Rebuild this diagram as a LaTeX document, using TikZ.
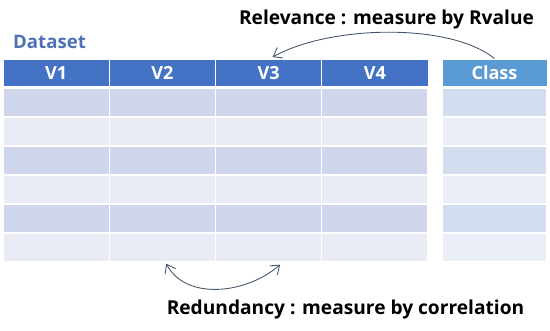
\documentclass[tikz,border=0pt]{standalone}
\usepackage{fontspec}
\setmainfont{Open Sans}
\usepackage{tikz}
\usetikzlibrary{positioning,arrows.meta}
\usepackage{xcolor}
\definecolor{headblue}{HTML}{4472C4}
\definecolor{classblue}{HTML}{5B9BD5}
\definecolor{rowdark}{HTML}{CFD5EA}
\definecolor{rowlight}{HTML}{E9EBF5}
\definecolor{classdark}{HTML}{D2DEEF}
\definecolor{classlight}{HTML}{EAEFF7}
\definecolor{titleblue}{HTML}{4E71B3}
\definecolor{arrowgray}{HTML}{44546A}

\begin{document}
\begin{tikzpicture}[
      head/.style={fill=headblue,draw=white,line width=0.5pt,minimum width=2.125cm,minimum height=0.55cm,inner sep=0pt,text=white,font=\bfseries\fontsize{10.3}{12}\selectfont},
      classhead/.style={head,fill=classblue,minimum width=2.1cm},
      cell/.style={draw=white,line width=0.8pt,minimum width=2.125cm,minimum height=0.58cm,inner sep=0pt},
      classcell/.style={cell,minimum width=2.1cm},
      label/.style={font=\bfseries\fontsize{10.9}{13}\selectfont,inner sep=0pt},
      curve/.style={arrowgray,line width=0.5pt}
    ]
      \useasboundingbox (0,0) rectangle (11,-6.62);

      \node[label,text=titleblue,font=\bfseries\fontsize{10.6}{13}\selectfont] (dataset) at (0.99,-0.84) {Dataset};
      \node[label] (relevance) at (7.73,-0.40) {Relevance : measure by Rvalue};
      \node[label] (redundancy) at (6.91,-6.19) {Redundancy : measure by correlation};

      \node[head] (v1) at (1.122,-1.455) {V1};
      \node[head] (v2) at (3.247,-1.455) {V2};
      \node[head] (v3) at (5.372,-1.455) {V3};
      \node[head] (v4) at (7.497,-1.455) {V4};
      \node[classhead] (class) at (9.89,-1.455) {Class};

      % body rows, dark and light in turn
      \foreach \r/\y in {1/-2.05,2/-2.63,3/-3.21,4/-3.79,5/-4.37,6/-4.95}{
        \pgfmathsetmacro{\shade}{isodd(\r) ? "dark" : "light"}
        \foreach \c/\x in {1/1.122,2/3.247,3/5.372,4/7.497}
          \node[cell,fill=row\shade] (c\c r\r) at (\x,\y) {};
        \node[classcell,fill=class\shade] (k\r) at (9.89,\y) {};
      }

      \coordinate (relend) at ([xshift=0.08cm,yshift=0.03cm]v3.north);
      \coordinate (redstart) at ([xshift=0.08cm,yshift=-0.02cm]c2r6.south);
      \coordinate (redend) at ([xshift=0.23cm,yshift=-0.04cm]c3r6.south);

      \draw[curve,-{Straight Barb[length=1.6mm,width=2.4mm]}] (class.north) .. controls (9.0,-0.45) and (6.6,-0.5) .. (relend);
      \draw[curve,{Straight Barb[length=1.6mm,width=2.4mm]}-{Straight Barb[length=1.6mm,width=2.4mm]}] (redstart) .. controls (3.7,-6.0) and (4.9,-5.9) .. (redend);
    \end{tikzpicture}
\end{document}
